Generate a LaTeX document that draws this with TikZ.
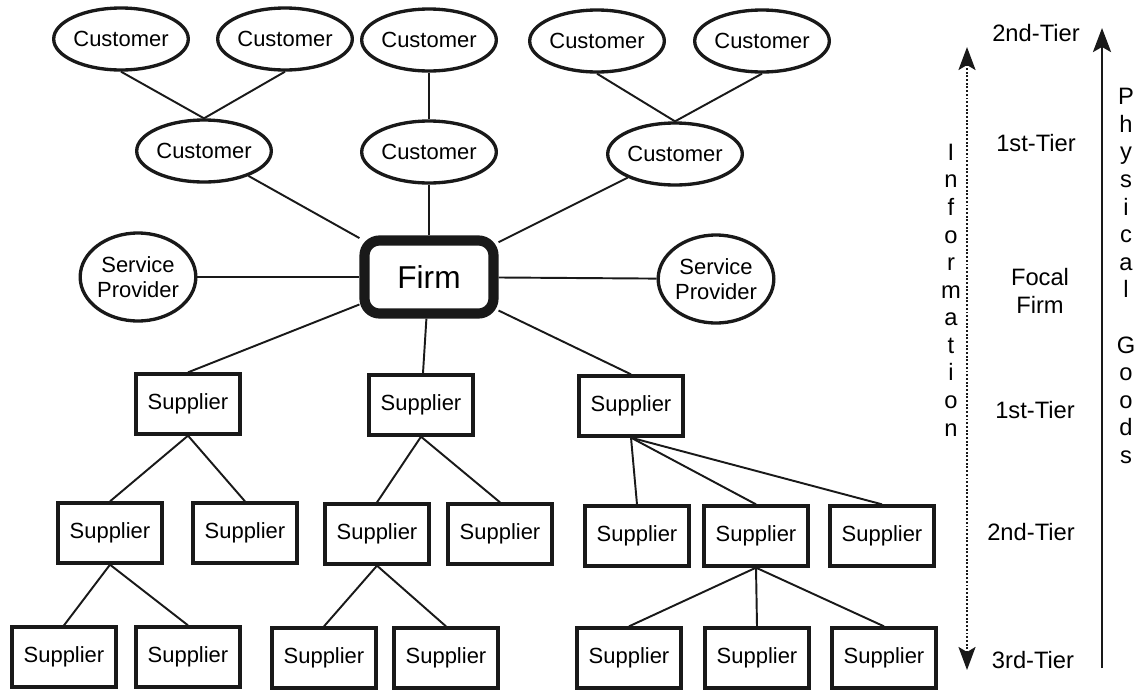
\documentclass[tikz,border=0pt]{standalone}
\usepackage{fontspec}
\setmainfont{Liberation Sans}
\usepackage{tikz}
\usetikzlibrary{arrows.meta,shapes,positioning}
\definecolor{scanink}{RGB}{25,25,25}
\tikzstyle{cust} = [ellipse, draw=scanink, line width=1.9pt, minimum width=2.36cm, minimum height=1.24cm, inner sep=0pt, font=\fontsize{12.5}{14.2}\selectfont]
\tikzstyle{prov} = [ellipse, draw=scanink, line width=1.9pt, minimum width=2.0cm, minimum height=1.76cm, inner sep=0pt, align=center, font=\fontsize{12.5}{14.2}\selectfont]
\tikzstyle{firmbox} = [rectangle, rounded corners=0.3cm, draw=scanink, line width=5.8pt, minimum width=2.58cm, minimum height=1.46cm, font=\fontsize{18}{20}\selectfont]
\tikzstyle{supp} = [rectangle, draw=scanink, line width=1.9pt, minimum width=2.08cm, minimum height=1.2cm, inner sep=0pt, font=\fontsize{12.5}{14.2}\selectfont]
\tikzstyle{link} = [line width=1.1pt, draw=scanink]
\tikzstyle{tier} = [align=center, font=\fontsize{13.5}{15.7}\selectfont]

\begin{document}
\begin{tikzpicture}[x=0.02cm, y=-0.02cm]
\useasboundingbox (0,0) rectangle (1138,690);

% Customers
\node[cust] (c1) at (121,39) {Customer};
\node[cust] (c2) at (285,39) {Customer};
\node[cust] (c3) at (429,40) {Customer};
\node[cust] (c4) at (597,41) {Customer};
\node[cust] (c5) at (762,41) {Customer};
\node[cust] (c6) at (204,151) {Customer};
\node[cust] (c7) at (429,152) {Customer};
\node[cust] (c8) at (675,154) {Customer};

% Focal firm and service providers
\node[firmbox] (firm) at (429,277) {Firm};
\node[prov] (p1) at (138,277) {Service\\Provider};
\node[prov] (p2) at (716,279) {Service\\Provider};

% Suppliers
\node[supp] (s1) at (188,404) {Supplier};
\node[supp] (s2) at (421,405) {Supplier};
\node[supp] (s3) at (631,406) {Supplier};
\node[supp] (s4) at (110,533) {Supplier};
\node[supp] (s5) at (245,533) {Supplier};
\node[supp] (s6) at (377,534) {Supplier};
\node[supp] (s7) at (500,534) {Supplier};
\node[supp] (s8) at (637,536) {Supplier};
\node[supp] (s9) at (756,536) {Supplier};
\node[supp] (s10) at (882,536) {Supplier};
\node[supp] (s11) at (64,657) {Supplier};
\node[supp] (s12) at (188,657) {Supplier};
\node[supp] (s13) at (324,658) {Supplier};
\node[supp] (s14) at (446,658) {Supplier};
\node[supp] (s15) at (629,658) {Supplier};
\node[supp] (s16) at (757,658) {Supplier};
\node[supp] (s17) at (884,658) {Supplier};

% Links
\foreach \a/\b in {c1/c6, c2/c6, c3/c7, c4/c8, c5/c8}
  \draw[link] (\a.south) -- (\b.north);
\draw[link] (c6) -- (firm);
\draw[link] (c7) -- (firm);
\draw[link] (c8) -- (firm);
\draw[link] (p1) -- (firm);
\draw[link] (firm) -- (p2);
\draw[link] (firm) -- (s1.north);
\draw[link] (firm) -- (s2);
\draw[link] (firm) -- (s3.north);
\foreach \a/\b in {s1/s4, s1/s5, s2/s6, s2/s7, s3/s8, s3/s9, s3/s10, s4/s11, s4/s12, s6/s13, s6/s14, s9/s15, s9/s16, s9/s17}
  \draw[link] (\a.south) -- (\b.north);

% Tiers
\node[tier] (t1) at (1036,33) {2nd-Tier};
\node[tier] (t2) at (1036,143) {1st-Tier};
\node[tier] (t3) at (1040,291) {Focal\\Firm};
\node[tier] (t4) at (1035,410) {1st-Tier};
\node[tier] (t5) at (1031,532) {2nd-Tier};
\node[tier] (t6) at (1033,660) {3rd-Tier};

% Flows
\coordinate (infotop) at (967,47);
\coordinate (infobot) at (967,670);
\draw[line width=1.5pt, dash pattern=on 1.1pt off 1pt, draw=scanink, {Stealth[length=0.46cm, width=0.34cm, inset=0.1cm]}-{Stealth[length=0.46cm, width=0.34cm, inset=0.1cm]}] (infobot) -- (infotop);
\node[tier] (info) at (951,290) {I\\n\\f\\o\\r\\m\\a\\t\\i\\o\\n};
\coordinate (physbot) at (1102,668);
\coordinate (phystop) at (1102,28);
\draw[line width=1.6pt, draw=scanink, -{Stealth[length=0.48cm, width=0.36cm, inset=0.1cm]}] (physbot) -- (phystop);
\node[tier] (phys) at (1126,276) {P\\h\\y\\s\\i\\c\\a\\l\\ \\G\\o\\o\\d\\s};
\end{tikzpicture}
\end{document}
